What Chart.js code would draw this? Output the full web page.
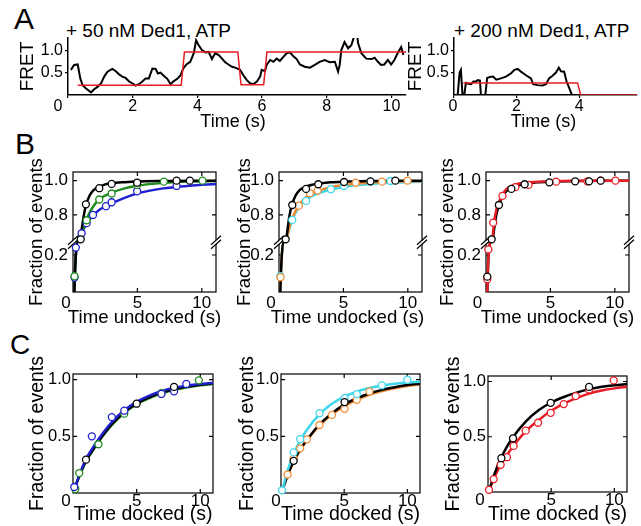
<!DOCTYPE html>
<html>
<head>
<meta charset="utf-8">
<title>Ded1 docking kinetics</title>
<script src="https://cdn.jsdelivr.net/npm/chart.js@4.4.1/dist/chart.umd.min.js"></script>
<style>
  html, body { margin: 0; padding: 0; background: #ffffff; }
  #fig { position: relative; width: 641px; height: 526px; overflow: hidden;
         font-family: "Liberation Sans", Arial, Helvetica, sans-serif; color: #000; }
  #fig canvas { position: absolute; }
  .txt { position: absolute; line-height: 1; white-space: nowrap; }
</style>
</head>
<body>
<div id="fig">
  <div class="txt" style="left:14px;top:4px;font-size:30px">A</div>
  <div class="txt" style="left:15px;top:129px;font-size:30px">B</div>
  <div class="txt" style="left:10px;top:331px;font-size:28px">C</div>
  <div class="txt" style="left:66px;top:21px;font-size:19px">+ 50 nM Ded1, ATP</div>
  <div class="txt" style="left:454px;top:21px;font-size:19px">+ 200 nM Ded1, ATP</div>
</div>
<script>
// ---------- panel A: FRET traces (time in s) ----------
var a1Time = [0.09,0.19,0.30,0.38,0.45,0.55,0.71,0.81,0.91,1.02,
              1.12,1.22,1.37,1.48,1.58,1.68,1.78,1.89,1.99,2.09,
              2.19,2.30,2.40,2.50,2.61,2.71,2.78,2.86,2.96,3.07,
              3.17,3.27,3.38,3.48,3.56,3.66,3.78,3.89,3.96,4.04,
              4.14,4.25,4.35,4.45,4.55,4.66,4.76,4.86,4.96,5.07,
              5.17,5.32,5.42,5.53,5.63,5.73,5.84,5.94,5.99,6.09,
              6.14,6.25,6.35,6.45,6.55,6.66,6.76,6.86,6.96,7.07,
              7.17,7.32,7.48,7.63,7.78,7.94,8.09,8.25,8.35,8.40,
              8.45,8.55,8.66,8.76,8.83,8.88,8.92,8.97,9.07,9.22,
              9.38,9.48,9.58,9.68,9.78,9.89,9.99,10.09,10.19,10.30,
              10.37];
var a1Fret = [0.56,0.67,0.68,0.37,0.22,0.15,0.06,0.13,0.18,0.26,
              0.41,0.52,0.58,0.53,0.46,0.41,0.38,0.30,0.26,0.21,
              0.24,0.30,0.37,0.37,0.59,0.58,0.48,0.50,0.43,0.36,
              0.24,0.31,0.36,0.44,0.59,0.68,0.74,0.93,1.22,1.11,
              1.00,0.95,0.96,0.80,0.93,0.89,0.81,0.73,0.68,0.63,
              0.61,0.56,0.44,0.33,0.26,0.24,0.30,0.41,0.56,0.53,
              0.67,0.78,0.74,0.81,0.76,0.85,0.93,0.95,0.87,0.80,
              0.68,0.63,0.61,0.67,0.74,0.78,0.73,0.74,0.52,0.67,
              1.00,1.18,1.04,1.11,1.27,1.45,1.45,1.15,0.93,0.81,
              0.80,0.83,0.74,0.67,0.68,0.78,0.68,0.78,0.93,1.07,
              0.89];
var a1StepTime = [0.3, 3.5, 3.6, 5.25, 5.35, 6.05, 6.15, 10.45];
var a1StepFret = [0.22, 0.22, 0.96, 0.96, 0.23, 0.23, 0.96, 0.96];

var a2Time = [0.12,0.18,0.22,0.27,0.33,0.38,0.46,0.55,0.62,0.7,
              0.76,0.83,0.86,1.0,1.06,1.15,1.25,1.35,1.5,1.66,
              1.82,1.93,2.04,2.14,2.3,2.46,2.53,2.67,2.83,2.94,
              3.04,3.15,3.26,3.35,3.42,3.52,3.6,3.71,3.77];
var a2Fret = [0.02,0.5,0.56,0.02,0.0,0.27,0.25,0.24,0.3,0.3,
              0.33,0.32,0.0,0.0,0.38,0.4,0.41,0.34,0.37,0.41,
              0.48,0.56,0.58,0.52,0.44,0.37,0.24,0.22,0.21,0.24,
              0.37,0.43,0.5,0.61,0.53,0.52,0.3,0.11,0.0];
var a2StepTime = [0.3, 3.95, 4.05, 5.85];
var a2StepFret = [0.27, 0.27, 0, 0];

var aTimeTicks1 = [0, 2, 4, 6, 8, 10];
var aTimeTicks2 = [0, 2, 4];
var aFretTicks = [0.5, 1.0];
var aFretLabels = ['0.5', '1.0'];

// ---------- panel B: time undocked (s) vs fraction of events ----------
var bFitTime = [0.1,0.15,0.22,0.35,0.5,0.6,0.8,1.0,1.3,1.6,2.0,2.5,3.0,4,5,7,9,11.1];
var b1BlackFit  = [0,0.1,0.2,0.27,0.6,0.68,0.78,0.855,0.915,0.945,0.963,0.978,0.985,0.991,0.995,0.998,1.0,1.0];
var b1GreenFit  = [0,0.1,0.2,0.27,0.6,0.66,0.72,0.765,0.815,0.852,0.89,0.913,0.93,0.955,0.97,0.987,0.995,0.998];
var b1BlueFit   = [0,0.1,0.2,0.27,0.6,0.67,0.715,0.742,0.775,0.8,0.827,0.85,0.868,0.9,0.926,0.955,0.97,0.981];
var b2BlackFit  = [0,0.1,0.2,0.27,0.62,0.68,0.79,0.858,0.915,0.945,0.962,0.975,0.982,0.99,0.994,0.998,1.0,1.0];
var b2CyanFit   = [0,0.1,0.2,0.27,0.5,0.66,0.72,0.765,0.815,0.85,0.882,0.908,0.925,0.948,0.963,0.98,0.988,0.993];
var b2OrangeFit = [0,0.1,0.2,0.27,0.5,0.66,0.73,0.775,0.825,0.862,0.897,0.922,0.94,0.962,0.975,0.988,0.994,0.997];
var b3BlackFit  = [0,0.12,0.22,0.27,0.62,0.7,0.8,0.858,0.91,0.94,0.96,0.973,0.981,0.99,0.994,0.998,1.0,1.0];
var b3RedFit    = [0,0.12,0.22,0.27,0.66,0.74,0.83,0.875,0.922,0.952,0.97,0.982,0.988,0.993,0.996,0.999,1.0,1.0];

var b1BlackT = [0.6,1.0,2.04,3.0,4.98,8.04,9.07];
var b1BlackF = [0.658,0.862,0.956,0.981,0.988,1.0,1.0];
var b1GreenT = [0.12,1.06,2.04,3.0,4.98,7.05,10.05];
var b1GreenF = [0.085,0.769,0.89,0.925,0.975,0.994,1.0];
var b1BlueT  = [0.12,0.22,0.67,1.06,1.55,2.56,3.0,4.98,8.04];
var b1BlueF  = [0.078,0.24,0.693,0.752,0.8,0.851,0.874,0.938,0.969];

var b2BlackT  = [0.52,1.03,2.1,3.05,5.05,7.1,9.03];
var b2BlackF  = [0.658,0.858,0.952,0.979,0.992,0.996,1.0];
var b2CyanT   = [0.1,1.03,2.1,4.03,5.05,7.1,8.65];
var b2CyanF   = [0.086,0.771,0.882,0.95,0.969,0.994,0.998];
var b2OrangeT = [0.12,1.54,2.4,3.0,5.95,8.0,9.98];
var b2OrangeF = [0.08,0.854,0.927,0.942,0.988,0.994,1.0];

var b3BlackT = [0.1,0.44,1.0,1.97,3.0,4.92,6.92,8.0,8.9];
var b3BlackF = [0.083,0.658,0.858,0.952,0.979,0.99,0.996,0.996,1.0];
var b3RedT   = [0.1,0.18,0.56,1.28,2.28,3.3,5.44,7.87,8.9,10.05];
var b3RedF   = [0.069,0.23,0.755,0.911,0.962,0.975,0.994,0.996,1.0,1.0];

var bTimeTicks = [0, 5, 10];
var bFracTicks = [0.2, 0.8, 1.0];
var bFracLabels = ['0.2', '0.8', '1.0'];

// ---------- panel C: time docked (s) vs fraction of events ----------
var cFitTime = [0.1,0.5,1,1.5,2,3,4,5,6,7,8,9,10,11];
var c1BlackFit  = [0.03,0.15,0.28,0.37,0.455,0.6,0.71,0.79,0.845,0.888,0.918,0.94,0.956,0.968];
var c1BlueFit   = [0.03,0.16,0.295,0.39,0.475,0.62,0.728,0.805,0.86,0.9,0.928,0.948,0.962,0.972];
var c1GreenFit  = [0.03,0.15,0.275,0.365,0.45,0.593,0.703,0.783,0.838,0.88,0.91,0.933,0.95,0.962];
var c2BlackFit  = [0.02,0.15,0.28,0.38,0.46,0.6,0.7,0.78,0.835,0.878,0.91,0.934,0.952,0.965];
var c2CyanFit   = [0.02,0.19,0.34,0.46,0.55,0.69,0.785,0.85,0.895,0.926,0.948,0.963,0.974,0.981];
var c2OrangeFit = [0.02,0.15,0.275,0.375,0.455,0.59,0.69,0.765,0.822,0.866,0.9,0.925,0.945,0.958];
var c3BlackFit  = [0.02,0.16,0.3,0.41,0.5,0.64,0.74,0.81,0.86,0.9,0.93,0.952,0.967,0.977];
var c3RedFit    = [0.02,0.13,0.245,0.335,0.415,0.55,0.65,0.735,0.8,0.85,0.89,0.918,0.938,0.952];

var c1BlueT  = [0.1,1.48,3.05,4.03,6.95,7.94,8.9];
var c1BlueF  = [0.053,0.5,0.67,0.726,0.874,0.897,0.962];
var c1BlackT = [1.02,5.0,7.94];
var c1BlackF = [0.294,0.788,0.936];
var c1GreenT = [0.18,0.49,2.0,4.03,6.95,7.94,9.89];
var c1GreenF = [0.035,0.176,0.43,0.7,0.882,0.912,0.994];

var c2CyanT   = [0.08,1.0,1.52,3.05,5.03,6.0,7.98,10.0];
var c2CyanF   = [0.024,0.358,0.476,0.704,0.837,0.873,0.95,1.0];
var c2BlackT  = [1.0,5.03];
var c2BlackF  = [0.284,0.802];
var c2OrangeT = [0.52,1.0,1.52,2.05,3.05,4.03,5.03,6.0,7.0];
var c2OrangeF = [0.163,0.305,0.394,0.474,0.6,0.689,0.743,0.822,0.896];

var c3BlackT = [1.06,1.98,4.96,8.0];
var c3BlackF = [0.306,0.486,0.807,0.951];
var c3RedT   = [0.08,0.45,1.0,1.5,2.03,2.98,3.96,4.96,5.99,6.94,8.0,9.95];
var c3RedF   = [0.02,0.117,0.246,0.315,0.417,0.555,0.627,0.717,0.796,0.868,0.928,1.01];

var cTimeTicks = [0, 5, 10];
var cFracTicks = [0.5, 1.0];
var cFracLabels = ['0.5', '1.0'];

// ---------- drawing ----------
var FONT = '"Liberation Sans", Arial, Helvetica, sans-serif';
Chart.defaults.font.family = FONT;
Chart.defaults.color = '#000';
var fig = document.getElementById('fig');

var K = '#000000', GREEN = '#1e8c1e', BLUE = '#2020d0', CYAN = '#3ed6ea', ORANGE = '#f08c34', RED = '#e81c24';

// broken axis of B: fraction -> pixels above the x axis
function brk(v) {
  if (v <= 0.272) return v * 185;
  if (v >= 0.644) return 50.3 + (v - 0.644) * 171.5;
  return 50.3;
}
function same(v) { return v; }

function pts(xs, ys, f) {
  return xs.map(function(x, i) { return { x: x, y: f(ys[i]) }; });
}
function fitLine(xs, ys, color, f) {
  return { data: pts(xs, ys, f), showLine: true, borderColor: color, borderWidth: 2.5,
           pointRadius: 0, cubicInterpolationMode: 'monotone', order: 2 };
}
function dots(xs, ys, color, f) {
  return { data: pts(xs, ys, f), showLine: false, pointRadius: 3.5, pointBorderWidth: 1.3,
           pointBorderColor: color, pointBackgroundColor: '#ffffff', clip: 8, order: 1 };
}
function trace(xs, ys, color, w) {
  return { data: pts(xs, ys, same), showLine: true, borderColor: color, borderWidth: w,
           pointRadius: 0, tension: 0 };
}

// box, inward ticks, axis break, corner "0" and x title
var deco = {
  id: 'deco',
  beforeDatasetsDraw: function(chart, args, o) {
    var ctx = chart.ctx, a = chart.chartArea, x = chart.scales.x, y = chart.scales.y;
    ctx.save();
    ctx.strokeStyle = '#000';
    if (o.box) {
      ctx.lineWidth = 1.2;
      ctx.strokeRect(a.left, a.top, a.right - a.left, a.bottom - a.top);
      ctx.beginPath();
      x.ticks.forEach(function(t) {
        var px = x.getPixelForValue(t.value);
        if (px < a.left + 2) return;
        ctx.moveTo(px, a.bottom); ctx.lineTo(px, a.bottom - 4);
        ctx.moveTo(px, a.top); ctx.lineTo(px, a.top + 4);
      });
      y.ticks.forEach(function(t) {
        var py = y.getPixelForValue(t.value);
        ctx.moveTo(a.left, py); ctx.lineTo(a.left + 4, py);
        ctx.moveTo(a.right, py); ctx.lineTo(a.right - 4, py);
      });
      ctx.stroke();
    }
    if (o.breakAt !== undefined) {
      var py = y.getPixelForValue(o.breakAt);
      [a.left, a.right].forEach(function(px) {
        ctx.fillStyle = '#ffffff';
        ctx.beginPath();
        ctx.moveTo(px - 5, py + 3); ctx.lineTo(px + 5, py - 6);
        ctx.lineTo(px + 5, py - 2); ctx.lineTo(px - 5, py + 7);
        ctx.closePath();
        ctx.fill();
        ctx.beginPath();
        ctx.moveTo(px - 5, py + 3); ctx.lineTo(px + 5, py - 6);
        ctx.moveTo(px - 5, py + 7); ctx.lineTo(px + 5, py - 2);
        ctx.lineWidth = 1.2;
        ctx.stroke();
      });
    }
    ctx.restore();
  },
  afterDraw: function(chart, args, o) {
    var ctx = chart.ctx, a = chart.chartArea;
    ctx.save();
    ctx.fillStyle = '#000';
    ctx.textAlign = 'center';
    ctx.textBaseline = 'middle';
    ctx.font = o.tickSize + 'px ' + FONT;
    ctx.fillText('0', a.left - o.zeroDx, o.tickY);
    ctx.font = o.xTitleSize + 'px ' + FONT;
    ctx.fillText(o.xTitle, (a.left + a.right) / 2 + (o.xTitleDx || 0), o.xTitleY);
    ctx.restore();
  }
};

function makePanel(p) {
  var W = Math.round(p.box.l - (p.yTitleX - p.yTitleSize * 0.6));
  var H = Math.round(p.xTitleY + p.xTitleSize * 0.6 + 2 - p.box.b);
  var left = p.box.l - W;
  var top = p.box.t - p.padT;
  var cv = document.createElement('canvas');
  cv.width = p.box.r + p.padR - left;
  cv.height = p.box.b + H - top;
  cv.style.left = left + 'px';
  cv.style.top = top + 'px';
  fig.appendChild(cv);
  var tl = p.outer ? 3 : 0;
  function grid() {
    return p.outer
      ? { display: true, drawOnChartArea: false, drawTicks: true, tickLength: 3, color: '#000', lineWidth: 1.2 }
      : { display: false, drawTicks: false };
  }
  function border() {
    return p.outer ? { display: true, color: '#000', width: 1.5 } : { display: false };
  }
  new Chart(cv, {
    type: 'scatter',
    data: { datasets: p.datasets },
    options: {
      responsive: false,
      animation: false,
      layout: { autoPadding: false, padding: { left: 0, top: p.padT, right: p.padR, bottom: 0 } },
      plugins: {
        legend: { display: false },
        tooltip: { enabled: false },
        deco: {
          box: !p.outer, breakAt: p.breakAt, zeroDx: p.zeroDx, tickSize: p.xTickSize,
          tickY: p.box.b - top + tl + p.xPad + p.xTickSize * 0.6,
          xTitle: p.xTitle, xTitleSize: p.xTitleSize, xTitleY: p.xTitleY - top, xTitleDx: p.xTitleDx
        }
      },
      scales: {
        x: {
          type: 'linear', min: p.xMin, max: p.xMax,
          afterFit: function(s) { s.height = H; },
          afterBuildTicks: function(s) { s.ticks = p.xTicks.map(function(v) { return { value: v }; }); },
          ticks: { callback: function(v) { return v === 0 ? '' : String(v); },
                   font: { size: p.xTickSize }, padding: p.xPad, color: '#000', maxRotation: 0, autoSkip: false },
          grid: grid(), border: border()
        },
        y: {
          type: 'linear', min: p.yMin, max: p.yMax,
          afterFit: function(s) { s.width = W; },
          afterBuildTicks: function(s) { s.ticks = p.yTicks.map(function(v) { return { value: v }; }); },
          ticks: { callback: function(v, i) { return p.yLabels[i]; },
                   font: { size: p.yTickSize }, padding: p.yPad, color: '#000', autoSkip: false },
          grid: grid(), border: border(),
          title: { display: true, text: p.yTitle, font: { size: p.yTitleSize },
                   padding: { top: 0, bottom: 0 }, color: '#000' }
        }
      }
    },
    plugins: [deco]
  });
}

// A
var aCommon = { outer: true, yMin: 0, yMax: 1.27, yTicks: aFretTicks, yLabels: aFretLabels,
  yTitle: 'FRET', yTitleSize: 19, xTitle: 'Time (s)', xTitleSize: 18, xTitleY: 122,
  xTickSize: 16, yTickSize: 16, xPad: -1, yPad: 2, padT: 14, padR: 4 };
makePanel(Object.assign({}, aCommon, {
  box: { l: 68, t: 38, r: 406, b: 95 }, xMin: 0, xMax: 10.45, xTicks: aTimeTicks1,
  yTitleX: 27, zeroDx: 10, xTitleDx: -4,
  datasets: [trace(a1StepTime, a1StepFret, RED, 1.5), trace(a1Time, a1Fret, K, 2)]
}));
makePanel(Object.assign({}, aCommon, {
  box: { l: 454, t: 38, r: 637, b: 95 }, xMin: 0, xMax: 5.85, xTicks: aTimeTicks2,
  yTitleX: 415, zeroDx: 1, xTitleDx: -2,
  datasets: [trace(a2StepTime, a2StepFret, RED, 1.5), trace(a2Time, a2Fret, K, 2)]
}));

// B
var bCommon = { outer: false, xMin: 0, xMax: 11.1, yMin: 0, yMax: 120, xTicks: bTimeTicks,
  yTicks: bFracTicks.map(brk), yLabels: bFracLabels, breakAt: 50.3,
  yTitle: 'Fraction of events', yTitleSize: 18.6, xTitle: 'Time undocked (s)', xTitleSize: 18.6,
  xTitleY: 317.5, xTickSize: 17, yTickSize: 17, xPad: 1.5, yPad: 5, padT: 24, padR: 6 };
makePanel(Object.assign({}, bCommon, {
  box: { l: 73, t: 172, r: 216, b: 292 }, yTitleX: 37, zeroDx: 7,
  datasets: [dots(b1BlackT, b1BlackF, K, brk), dots(b1GreenT, b1GreenF, GREEN, brk), dots(b1BlueT, b1BlueF, BLUE, brk),
             fitLine(bFitTime, b1BlackFit, K, brk), fitLine(bFitTime, b1GreenFit, GREEN, brk), fitLine(bFitTime, b1BlueFit, BLUE, brk)]
}));
makePanel(Object.assign({}, bCommon, {
  box: { l: 279, t: 172, r: 422, b: 292 }, yTitleX: 245, zeroDx: 8, xTitleDx: -3,
  datasets: [dots(b2BlackT, b2BlackF, K, brk), dots(b2OrangeT, b2OrangeF, ORANGE, brk), dots(b2CyanT, b2CyanF, CYAN, brk),
             fitLine(bFitTime, b2BlackFit, K, brk), fitLine(bFitTime, b2OrangeFit, ORANGE, brk), fitLine(bFitTime, b2CyanFit, CYAN, brk)]
}));
makePanel(Object.assign({}, bCommon, {
  box: { l: 486, t: 172, r: 629, b: 292 }, yTitleX: 448, zeroDx: 8.5,
  datasets: [dots(b3BlackT, b3BlackF, K, brk), dots(b3RedT, b3RedF, RED, brk),
             fitLine(bFitTime, b3RedFit, RED, brk), fitLine(bFitTime, b3BlackFit, K, brk)]
}));

// C
var cCommon = { outer: false, xMin: 0, xMax: 11, yMin: 0, yMax: 1.05, xTicks: cTimeTicks,
  yTicks: cFracTicks, yLabels: cFracLabels,
  yTitle: 'Fraction of events', yTitleSize: 19.5, xTitle: 'Time docked (s)', xTitleSize: 19.5,
  xTitleY: 515, xTickSize: 17, yTickSize: 16.5, xPad: -2, yPad: 2, padT: 28, padR: 6 };
makePanel(Object.assign({}, cCommon, {
  box: { l: 73, t: 374, r: 213, b: 493 }, yTitleX: 37.3, zeroDx: 7,
  datasets: [dots(c1BlackT, c1BlackF, K, same), dots(c1BlueT, c1BlueF, BLUE, same), dots(c1GreenT, c1GreenF, GREEN, same),
             fitLine(cFitTime, c1BlueFit, BLUE, same), fitLine(cFitTime, c1BlackFit, K, same), fitLine(cFitTime, c1GreenFit, GREEN, same)]
}));
makePanel(Object.assign({}, cCommon, {
  box: { l: 281, t: 374, r: 420, b: 493 }, yTitleX: 247.3, zeroDx: 5,
  datasets: [dots(c2BlackT, c2BlackF, K, same), dots(c2CyanT, c2CyanF, CYAN, same), dots(c2OrangeT, c2OrangeF, ORANGE, same),
             fitLine(cFitTime, c2CyanFit, CYAN, same), fitLine(cFitTime, c2BlackFit, K, same), fitLine(cFitTime, c2OrangeFit, ORANGE, same)]
}));
makePanel(Object.assign({}, cCommon, {
  box: { l: 488, t: 376, r: 627, b: 492 }, yTitleX: 453.3, zeroDx: 8,
  datasets: [dots(c3BlackT, c3BlackF, K, same), dots(c3RedT, c3RedF, RED, same),
             fitLine(cFitTime, c3BlackFit, K, same), fitLine(cFitTime, c3RedFit, RED, same)]
}));
</script>
</body>
</html>
